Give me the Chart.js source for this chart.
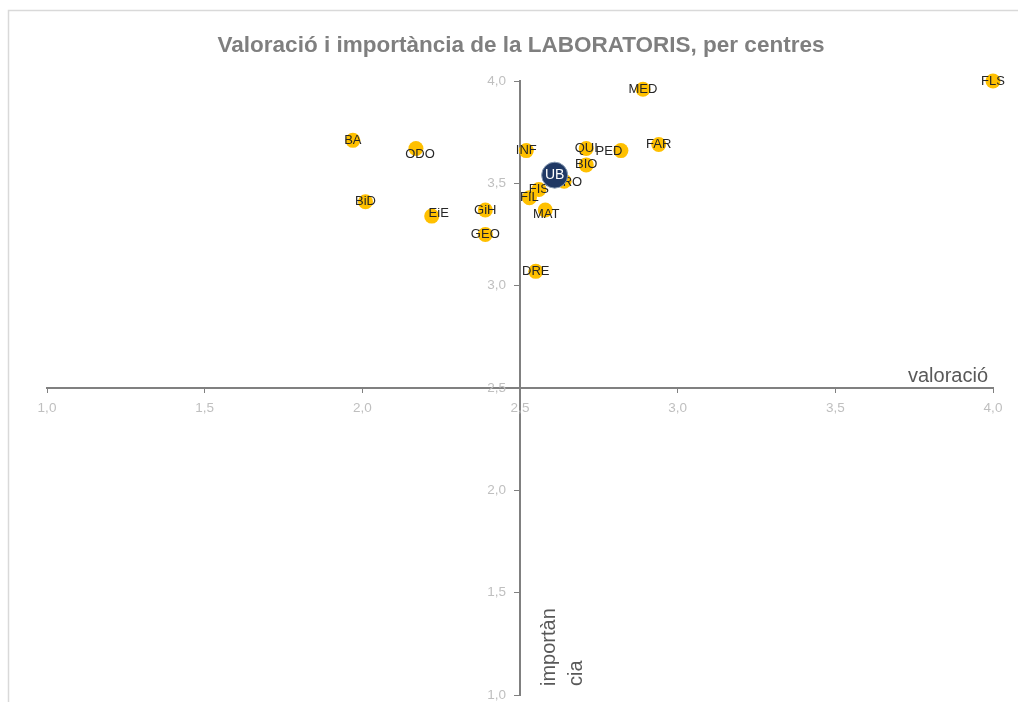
<!DOCTYPE html>
<html>
<head>
<meta charset="utf-8">
<script src="https://cdn.jsdelivr.net/npm/chart.js@4.4.1/dist/chart.umd.min.js"></script>
<style>
html,body{margin:0;padding:0;background:#fff;}
#wrap{width:1018px;height:702px;position:relative;}
</style>
</head>
<body>
<div id="wrap"><canvas id="c" width="1018" height="702"></canvas></div>
<script>
// ---- data ----
const centres    = ['BA','ODO','BiD','EiE','INF','QUI','PED','FAR','BIO','PRO','FIS','FIL','MAT','GiH','GEO','DRE','MED','FLS'];
const valoracio  = [1.97, 2.17, 2.01, 2.22, 2.52, 2.71, 2.82, 2.94, 2.71, 2.64, 2.56, 2.53, 2.58, 2.39, 2.39, 2.55, 2.89, 4.00];
const importancia= [3.71, 3.67, 3.41, 3.34, 3.66, 3.67, 3.66, 3.69, 3.59, 3.51, 3.47, 3.43, 3.37, 3.37, 3.25, 3.07, 3.96, 4.00];
const ubLabel = ['UB'];
const ubValoracio = [2.61];
const ubImportancia = [3.54];
const xTickValues = [1.0, 1.5, 2.0, 2.5, 3.0, 3.5, 4.0];
const xTickLabels = ['1,0','1,5','2,0','2,5','3,0','3,5','4,0'];
const yTickValues = [1.0, 1.5, 2.0, 2.5, 3.0, 3.5, 4.0];
const yTickLabels = ['1,0','1,5','2,0','2,5','3,0','3,5','4,0'];
const chartTitle = 'Valoració i importància de la LABORATORIS, per centres';
const xTitle = 'valoració';
const yTitle = ['importàn','cia'];

// label nudges (px) for a few overlapping labels
const labelNudge = {ODO:[4,6], EiE:[7,-3], PED:[-12,1], MAT:[1,4], PRO:[4,1]};

const pts = centres.map((c,i)=>({x:valoracio[i], y:importancia[i], label:c}));
const ubPts = ubLabel.map((c,i)=>({x:ubValoracio[i], y:ubImportancia[i], label:c}));

const FONT = '"Liberation Sans", Arial, sans-serif';

const decor = {
  id:'decor',
  beforeDraw(chart){
    const ctx = chart.ctx;
    ctx.save();
    ctx.strokeStyle = '#d9d9d9';
    ctx.lineWidth = 1.5;
    ctx.beginPath();
    ctx.moveTo(8.5, 710); ctx.lineTo(8.5, 10.5); ctx.lineTo(1030, 10.5);
    ctx.stroke();
    ctx.restore();
  },
  afterDraw(chart){
    const ctx = chart.ctx;
    const xs = chart.scales.x, ys = chart.scales.y;
    const axX = xs.getPixelForValue(2.5), axY = ys.getPixelForValue(2.5);
    ctx.save();
    // tick labels
    ctx.fillStyle='#bfbfbf';
    ctx.font='13.5px '+FONT;
    ctx.textAlign='center'; ctx.textBaseline='middle';
    xTickValues.forEach((v,i)=>ctx.fillText(xTickLabels[i], xs.getPixelForValue(v), axY+20));
    ctx.textAlign='right';
    yTickValues.forEach((v,i)=>ctx.fillText(yTickLabels[i], axX-14, ys.getPixelForValue(v)));
    // title
    ctx.textAlign='center';
    ctx.fillStyle='#7f7f7f';
    ctx.font='bold 22.5px '+FONT;
    ctx.fillText(chartTitle, 521, 46);
    // axis titles
    ctx.fillStyle='#595959';
    ctx.font='20px '+FONT;
    ctx.textAlign='right'; ctx.textBaseline='alphabetic';
    ctx.fillText(xTitle, xs.right-5, axY-6);
    ctx.translate(axX, ys.bottom);
    ctx.rotate(-Math.PI/2);
    ctx.textAlign='left';
    ctx.fillText(yTitle[0], 9, 35);
    ctx.fillText(yTitle[1], 9, 62);
    ctx.restore();
  },
  afterDatasetDraw(chart, args){
    const ctx = chart.ctx;
    const di = args.index;
    const ds = chart.data.datasets[di];
    const meta = args.meta;
    ctx.save();
    ctx.textAlign='center'; ctx.textBaseline='middle';
    if (di===1){ ctx.fillStyle='#ffffff'; ctx.font='14px '+FONT; }
    else { ctx.fillStyle='#262626'; ctx.font='13px '+FONT; }
    meta.data.forEach((el,i)=>{
      const lab = ds.data[i].label;
      const n = labelNudge[lab] || [0,0];
      ctx.fillText(lab, el.x+n[0], el.y+n[1]);
    });
    ctx.restore();
  }
};

new Chart(document.getElementById('c'), {
  type:'scatter',
  data:{datasets:[
    {data:pts, backgroundColor:'#FFC000', borderColor:'#FFC000', pointRadius:7.5, pointHoverRadius:7.5, borderWidth:0, clip:false, order:2},
    {data:ubPts, backgroundColor:'#1F3864', borderColor:'#8497b0', pointRadius:13, pointHoverRadius:13, borderWidth:1, clip:false, order:1}
  ]},
  options:{
    responsive:false, animation:false,
    layout:{autoPadding:false, padding:{left:47,right:25,top:81,bottom:7}},
    plugins:{legend:{display:false}, tooltip:{enabled:false}, title:{display:false}},
    scales:{
      x:{type:'linear', min:1, max:4, position:{y:2.5},
         afterFit(s){ s.height=0; s.paddingLeft=0; s.paddingRight=0; },
         grid:{drawOnChartArea:false, drawTicks:true, tickLength:4, color:'#808080', lineWidth:1},
         border:{display:true, color:'#808080', width:2},
         ticks:{stepSize:0.5, display:false}},
      y:{type:'linear', min:1, max:4, position:{x:2.5},
         afterFit(s){ s.width=0; s.paddingTop=0; s.paddingBottom=0; },
         grid:{drawOnChartArea:false, drawTicks:true, tickLength:5, color:'#808080', lineWidth:1},
         border:{display:true, color:'#808080', width:2},
         ticks:{stepSize:0.5, display:false}}
    }
  },
  plugins:[decor]
});
</script>
</body>
</html>
